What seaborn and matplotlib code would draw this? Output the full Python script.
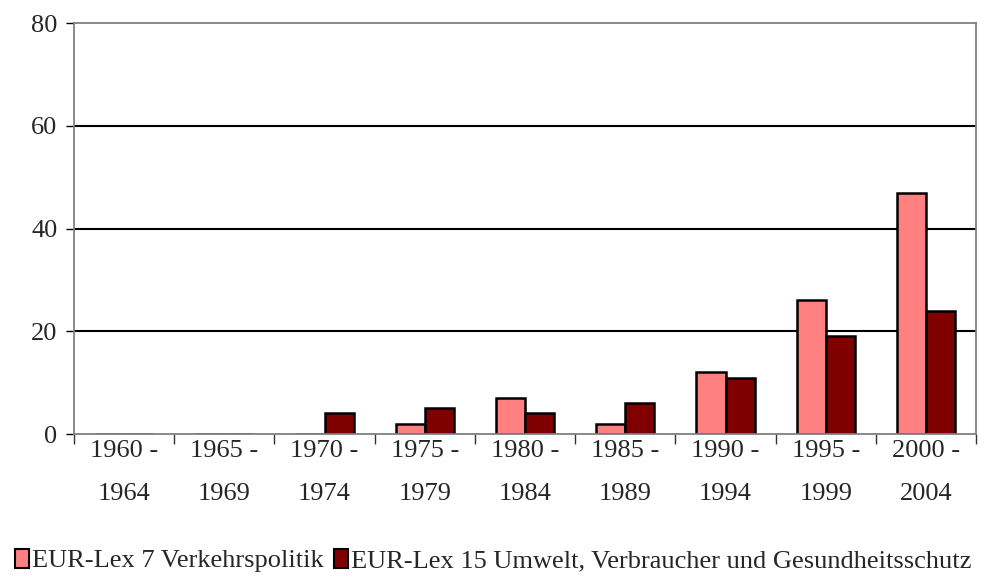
import matplotlib
matplotlib.use("Agg")
import matplotlib.pyplot as plt
import seaborn as sns
import pandas as pd
import numpy as np
from matplotlib.patches import Patch

periods = ["1960 -\n1964", "1965 -\n1969", "1970 -\n1974", "1975 -\n1979", "1980 -\n1984",
           "1985 -\n1989", "1990 -\n1994", "1995 -\n1999", "2000 -\n2004"]
verkehr = [0, 0, 0, 2, 7, 2, 12, 26, 47]
umwelt = [0, 0, 4, 5, 4, 6, 11, 19, 24]
series_names = ["EUR-Lex 7 Verkehrspolitik", "EUR-Lex 15 Umwelt, Verbraucher und Gesundheitsschutz"]
colors = ["#FF8080", "#800000"]

df = pd.DataFrame({
    "period": periods * 2,
    "value": verkehr + umwelt,
    "series": [series_names[0]] * len(periods) + [series_names[1]] * len(periods),
})

sns.set_style("white")
plt.rcParams["font.family"] = ["Liberation Serif", "DejaVu Serif"]
fs = 19

fig = plt.figure(figsize=(9.94, 5.87), dpi=100)
ax = fig.add_axes([0.0744, 0.2606, 0.9076, 0.7002])

sns.barplot(data=df, x="period", y="value", hue="series", palette=colors, saturation=1,
            width=0.58, gap=0, edgecolor="black", linewidth=1.8, ax=ax,
            legend=False, order=periods)

ax.set_ylim(0, 80)
ax.set_xlim(-0.5, len(periods) - 0.5)
ax.set_yticks([0, 20, 40, 60, 80])
for y in [20, 40, 60]:
    ax.axhline(y, color="black", linewidth=1.5, zorder=0)

ax.set_xlabel("")
ax.set_ylabel("")
ax.tick_params(axis="x", length=0, pad=4, labelsize=fs)
for lbl in ax.get_xticklabels():
    lbl.set_linespacing(2.25)
ax.tick_params(axis="y", direction="out", length=6, width=1, color="black", labelsize=fs, pad=6, left=True)
ax.set_xticks(np.arange(-0.5, len(periods)), minor=True)
ax.tick_params(axis="x", which="minor", direction="out", length=7, width=1, color="#333333", bottom=True)

for side in ["left", "bottom", "top", "right"]:
    ax.spines[side].set_visible(True)
    ax.spines[side].set_color("#808080")
    ax.spines[side].set_linewidth(1.3)

handles = [Patch(facecolor=c, edgecolor="black", linewidth=1.5) for c in colors]
fig.legend(handles, series_names, loc="lower left", bbox_to_anchor=(0.0, 0.0),
           ncol=2, frameon=False, fontsize=fs, handlelength=0.55, handleheight=0.75,
           handletextpad=0.1, columnspacing=0.4, borderaxespad=0.15)

fig.savefig("out.png", dpi=100)
plt.close(fig)
